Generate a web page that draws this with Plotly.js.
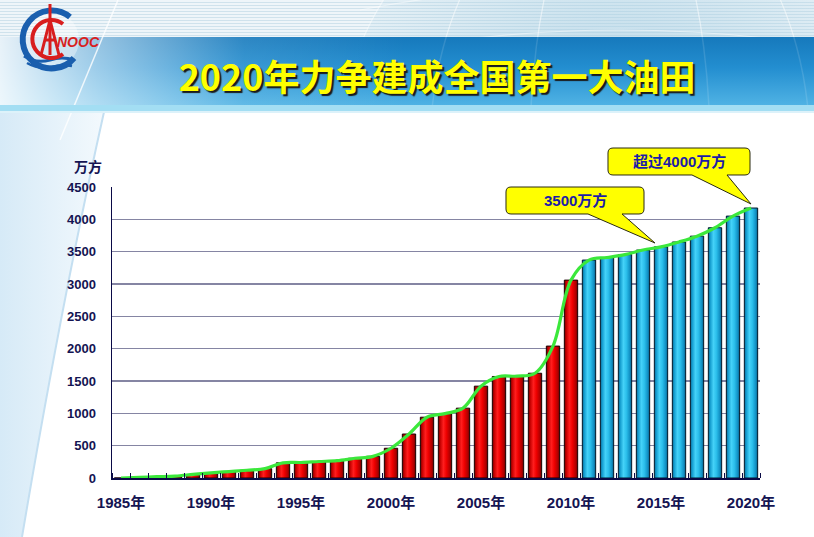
<!DOCTYPE html>
<html>
<head>
<meta charset="utf-8">
<script src="https://cdn.plot.ly/plotly-3.0.1.min.js"></script>
<style>
  html, body { margin: 0; padding: 0; background: #fff; }
  #wrap { position: relative; width: 814px; height: 537px; overflow: hidden; }
  #bg { position: absolute; left: 0; top: 0; }
  #chart { position: absolute; left: 0; top: 0; width: 814px; height: 537px; }
</style>
</head>
<body>
<div id="wrap">
<svg id="bg" width="814" height="537" xmlns="http://www.w3.org/2000/svg">
  <defs>
    <linearGradient id="band" x1="0" y1="0" x2="0" y2="1">
      <stop offset="0" stop-color="#1679BC"/>
      <stop offset="0.45" stop-color="#238ED0"/>
      <stop offset="1" stop-color="#4FB2E4"/>
    </linearGradient>
    <linearGradient id="bandLeft" x1="0" y1="0" x2="1" y2="0">
      <stop offset="0" stop-color="#FFFFFF" stop-opacity="0.9"/>
      <stop offset="0.12" stop-color="#FFFFFF" stop-opacity="0.55"/>
      <stop offset="0.3" stop-color="#FFFFFF" stop-opacity="0.1"/>
      <stop offset="0.5" stop-color="#FFFFFF" stop-opacity="0"/>
    </linearGradient>
    <pattern id="stripes" width="6" height="3" patternUnits="userSpaceOnUse">
      <rect width="6" height="3" fill="#EEF5F9"/>
      <rect y="2" width="6" height="1" fill="#CFE2EC"/>
    </pattern>
    <linearGradient id="leftPale" x1="0" y1="0" x2="1" y2="0">
      <stop offset="0" stop-color="#D6EAF7"/>
      <stop offset="1" stop-color="#F3F9FD"/>
    </linearGradient>
    <radialGradient id="globe" cx="0.5" cy="0.5" r="0.5">
      <stop offset="0" stop-color="#9CC8DE" stop-opacity="0.75"/>
      <stop offset="1" stop-color="#B8D8E8" stop-opacity="0.2"/>
    </radialGradient>
    <clipPath id="topClip"><rect x="0" y="0" width="814" height="105"/></clipPath>
  </defs>
  <rect width="814" height="537" fill="#FFFFFF"/>
  <path d="M0,112 L104,112 Q62,300 22,537 L0,537 Z" fill="url(#leftPale)"/>
  <path d="M104,112 Q62,300 22,537" stroke="#C4DFF1" stroke-width="2" fill="none"/>
  <rect width="814" height="38" fill="url(#stripes)"/>
  <g clip-path="url(#topClip)">
    <circle cx="620" cy="150" r="280" fill="url(#globe)"/>
    <g fill="none" stroke="#FFFFFF" stroke-opacity="0.45" stroke-width="1.2">
      <ellipse cx="620" cy="150" rx="280" ry="280"/>
      <ellipse cx="620" cy="150" rx="190" ry="280"/>
      <ellipse cx="620" cy="150" rx="90" ry="280"/>
      <path d="M340,60 Q620,0 900,60"/>
      <path d="M360,10 Q620,-40 880,10"/>
    </g>
  </g>
  <rect y="37" width="814" height="68" fill="url(#band)"/>
  <g clip-path="url(#topClip)" fill="none" stroke="#FFFFFF" stroke-opacity="0.12" stroke-width="1.5">
    <ellipse cx="620" cy="150" rx="190" ry="280"/>
    <ellipse cx="620" cy="150" rx="90" ry="280"/>
  </g>
  <rect y="37" width="814" height="68" fill="url(#bandLeft)"/>
  <path d="M118,0 L60,140" stroke="#FFFFFF" stroke-opacity="0.8" stroke-width="1.5"/>
  <rect y="105" width="814" height="6" fill="#A3DEF3"/>
  <rect y="111" width="814" height="2" fill="#DDF2FA"/>
  <!-- logo -->
  <g>
    <circle cx="50" cy="40" r="29" fill="#FFFFFF" fill-opacity="0.35"/>
    <g fill="none" stroke="#1A5FAE">
      <path d="M70,17 A29,29 0 1 0 74,58" stroke-width="6"/>
      <path d="M24,56 Q36,64 50,60 Q62,56 74,60" stroke-width="3"/>
      <path d="M27,63 Q39,70 51,67 Q62,64 72,66" stroke-width="2.5"/>
    </g>
    <g fill="none" stroke="#D81E1E">
      <path d="M63,24 A19,19 0 1 0 63,54" stroke-width="4"/>
    </g>
    <g fill="none" stroke="#D81E1E" stroke-width="3">
      <path d="M50,4 L50,55"/>
      <path d="M41,55 L50,20 L59,55"/>
      <path d="M44,40 L56,40"/>
    </g>
    <text x="57" y="47" font-family="Liberation Sans, Arial, sans-serif" font-weight="bold" font-style="italic" font-size="14" fill="#D81E1E">NOOC</text>
  </g>
</svg>
<div id="chart"></div>
</div>
<script>
// ---- data ----
const years = [1985, 1986, 1987, 1988, 1989, 1990, 1991, 1992, 1993, 1994,
               1995, 1996, 1997, 1998, 1999, 2000, 2001, 2002, 2003, 2004,
               2005, 2006, 2007, 2008, 2009, 2010, 2011, 2012, 2013, 2014,
               2015, 2016, 2017, 2018, 2019, 2020];
const output = [0, 10, 20, 30, 55, 80, 100, 120, 145, 235,
                240, 255, 268, 305, 335, 460, 680, 940, 995, 1080,
                1420, 1570, 1575, 1620, 2040, 3060, 3370, 3410, 3455, 3525,
                3575, 3650, 3740, 3870, 4050, 4175];
const splitYear = 2010;   // red bars up to here, blue after
const xTickYears = [1985, 1990, 1995, 2000, 2005, 2010, 2015, 2020];
const xTickLabels = ['1985年', '1990年', '1995年', '2000年', '2005年', '2010年', '2015年', '2020年'];
const yTickVals = [0, 500, 1000, 1500, 2000, 2500, 3000, 3500, 4000, 4500];
const yGridVals = [500, 1000, 1500, 2000, 2500, 3000, 3500, 4000];
const titleText = '2020年力争建成全国第一大油田';
const unitText = '万方';
const callout1 = '3500万方';
const callout2 = '超过4000万方';

// ---- build traces ----
const redX = [], redY = [], blueX = [], blueY = [];
years.forEach((yr, i) => {
  if (yr <= splitYear) { redX.push(yr); redY.push(output[i]); }
  else { blueX.push(yr); blueY.push(output[i]); }
});
const boundaries = years.map(y => y - 0.5).concat([years[years.length - 1] + 0.5]);

const traces = [
  { type: 'bar', x: redX, y: redY, marker: { color: '#E00000', line: { color: '#1A0000', width: 1 } }, hoverinfo: 'x+y' },
  { type: 'bar', x: blueX, y: blueY, marker: { color: '#22B4E4', line: { color: '#001A2A', width: 1 } }, hoverinfo: 'x+y' },
  { type: 'scatter', mode: 'lines', x: years, y: output, yaxis: 'y2',
    line: { shape: 'spline', smoothing: 1, color: '#3BE83B', width: 3.2 }, hoverinfo: 'skip' }
];

// ---- geometry helpers for decorative callouts (pixel -> paper) ----
const M = { l: 112, r: 54, t: 187, b: 59 };
const W = 814, H = 537;
const PW = W - M.l - M.r, PH = H - M.t - M.b;
const px = v => ((v - M.l) / PW).toFixed(5);
const py = v => ((H - M.b - v) / PH).toFixed(5);
function callout(x0, y0, x1, y1, r, wa, wb, tx, ty) {
  const P = (a, b) => px(a) + ',' + py(b);
  return 'M' + P(x0 + r, y0) + ' L' + P(x1 - r, y0) + ' Q' + P(x1, y0) + ' ' + P(x1, y0 + r) +
    ' L' + P(x1, y1 - r) + ' Q' + P(x1, y1) + ' ' + P(x1 - r, y1) +
    ' L' + P(wb, y1) + ' L' + P(tx, ty) + ' L' + P(wa, y1) +
    ' L' + P(x0 + r, y1) + ' Q' + P(x0, y1) + ' ' + P(x0, y1 - r) +
    ' L' + P(x0, y0 + r) + ' Q' + P(x0, y0) + ' ' + P(x0 + r, y0) + ' Z';
}

const axisColor = '#0A0A46';
const labelColor = '#141452';
const numFont = 'Liberation Sans, Arial, Noto Sans CJK SC, sans-serif';

const layout = {
  width: W, height: H,
  margin: M,
  paper_bgcolor: 'rgba(0,0,0,0)',
  plot_bgcolor: 'rgba(0,0,0,0)',
  showlegend: false,
  barmode: 'overlay',
  bargap: 0.26,
  title: {
    text: titleText, xref: 'container', yref: 'container',
    x: 0.537, y: 1 - 78 / 537, xanchor: 'center', yanchor: 'middle',
    font: { family: 'Noto Sans CJK SC, sans-serif', size: 36, weight: 700, color: '#FFFF00',
            shadow: '2px 2px 1px #1A1A1A' }
  },
  xaxis: {
    type: 'linear', range: [1984.5, 2020.5], fixedrange: true,
    tickmode: 'array', tickvals: xTickYears, ticktext: xTickLabels,
    ticks: '', showgrid: false, zeroline: false,
    showline: true, linecolor: axisColor, linewidth: 1.5,
    tickfont: { family: numFont, size: 15, weight: 700, color: labelColor },
    ticklabelstandoff: 10,
    minor: { tickmode: 'array', tickvals: boundaries, ticks: 'inside', ticklen: 5,
             tickwidth: 1, tickcolor: axisColor, showgrid: false }
  },
  yaxis: {
    range: [0, 4500], fixedrange: true,
    tickmode: 'array', tickvals: yTickVals,
    ticks: '', showgrid: false, zeroline: false,
    showline: true, linecolor: axisColor, linewidth: 1.5,
    tickfont: { family: numFont, size: 13, weight: 700, color: labelColor },
    ticklabelstandoff: 12
  },
  yaxis2: {
    overlaying: 'y', range: [0, 4500], fixedrange: true,
    tickmode: 'array', tickvals: yGridVals, showticklabels: false,
    ticks: '', showgrid: true, gridcolor: '#8585A3', gridwidth: 1.2,
    zeroline: false, showline: false
  },
  shapes: [
    { type: 'path', xref: 'paper', yref: 'paper', layer: 'above',
      path: callout(506, 187, 644, 214, 5, 588, 622, 655, 243),
      fillcolor: '#FFFF00', line: { color: '#2A2A10', width: 1 } },
    { type: 'path', xref: 'paper', yref: 'paper', layer: 'above',
      path: callout(608, 148, 750, 175, 5, 692, 727, 751, 204),
      fillcolor: '#FFFF00', line: { color: '#2A2A10', width: 1 } }
  ],
  annotations: [
    { text: unitText, xref: 'paper', yref: 'paper', x: (88 - M.l) / PW, y: (H - M.b - 166) / PH,
      xanchor: 'center', yanchor: 'middle', showarrow: false,
      font: { family: 'Noto Sans CJK SC, sans-serif', size: 14, weight: 700, color: labelColor } },
    { text: callout1, xref: 'paper', yref: 'paper', x: (575 - M.l) / PW, y: (H - M.b - 200.5) / PH,
      xanchor: 'center', yanchor: 'middle', showarrow: false,
      font: { family: numFont, size: 15, weight: 700, color: '#1C1CA8' } },
    { text: callout2, xref: 'paper', yref: 'paper', x: (679 - M.l) / PW, y: (H - M.b - 161.5) / PH,
      xanchor: 'center', yanchor: 'middle', showarrow: false,
      font: { family: numFont, size: 15, weight: 700, color: '#1C1CA8' } }
  ]
};

Plotly.newPlot('chart', traces, layout, { staticPlot: true, displayModeBar: false }).then(gd => {
  const ns = 'http://www.w3.org/2000/svg';
  const svg = gd.querySelector('.main-svg');
  let defs = svg.querySelector('defs');
  if (!defs) { defs = document.createElementNS(ns, 'defs'); svg.insertBefore(defs, svg.firstChild); }
  const grads = [
    ['cylRed', [[0, '#6E0000'], [0.14, '#C40000'], [0.38, '#FF1E1E'], [0.6, '#F00000'], [0.86, '#B00000'], [1, '#680000']]],
    ['cylBlue', [[0, '#0A6A96'], [0.14, '#149CCE'], [0.38, '#45D2F8'], [0.6, '#2CC0EC'], [0.86, '#1190C4'], [1, '#0A5E86']]]
  ];
  grads.forEach(([id, stops]) => {
    const g = document.createElementNS(ns, 'linearGradient');
    g.setAttribute('id', id);
    g.setAttribute('x1', '0'); g.setAttribute('y1', '0');
    g.setAttribute('x2', '1'); g.setAttribute('y2', '0');
    stops.forEach(([o, c]) => {
      const s = document.createElementNS(ns, 'stop');
      s.setAttribute('offset', o); s.setAttribute('stop-color', c);
      g.appendChild(s);
    });
    defs.appendChild(g);
  });
  const barTraces = gd.querySelectorAll('.barlayer .trace');
  barTraces.forEach((tr, i) => {
    const id = i === 0 ? 'cylRed' : 'cylBlue';
    tr.querySelectorAll('path').forEach(p => { p.style.fill = 'url(#' + id + ')'; });
  });
});
</script>
</body>
</html>
